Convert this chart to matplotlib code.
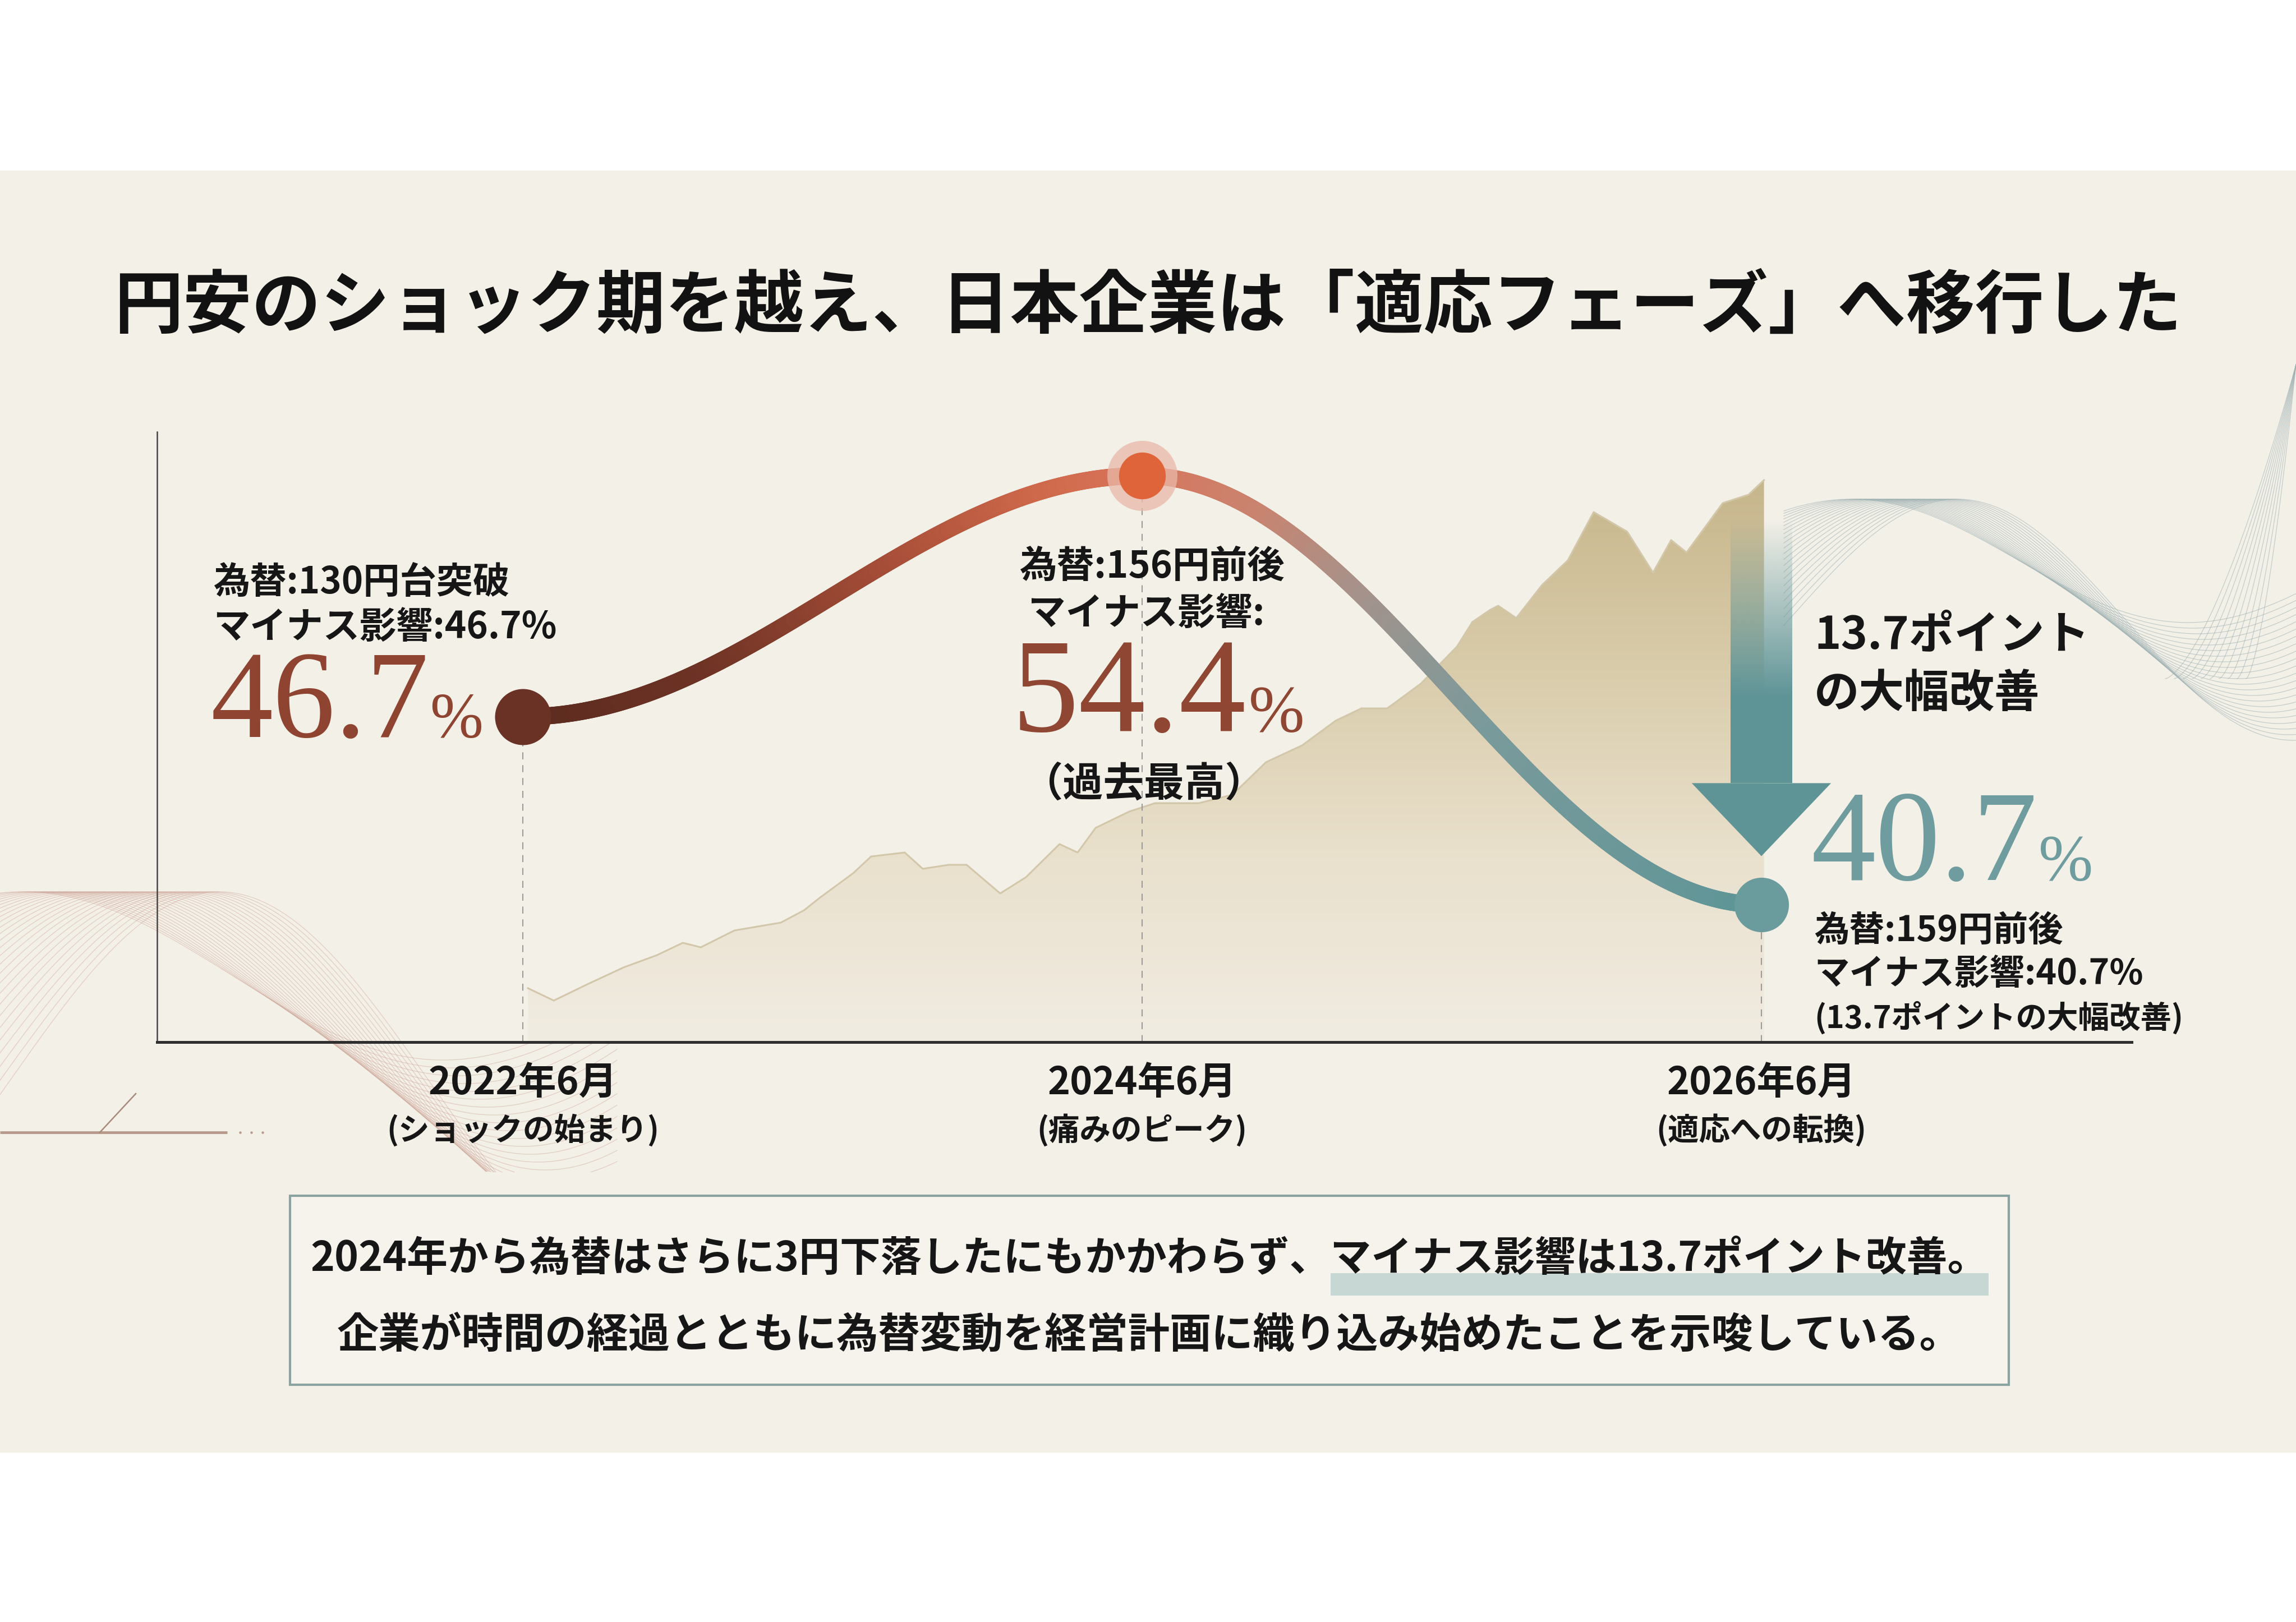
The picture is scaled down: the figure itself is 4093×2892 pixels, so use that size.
import numpy as np
import matplotlib.pyplot as plt
from matplotlib.collections import LineCollection
from matplotlib.colors import LinearSegmentedColormap, to_rgba
from matplotlib.patches import Rectangle, Polygon

plt.rcParams['font.family'] = ['Noto Sans CJK JP', 'DejaVu Sans']

W, H, DPI = 4093, 2892, 100

# ---- data -------------------------------------------------------------
periods = ['2022年6月', '2024年6月', '2026年6月']
phases = ['(ショックの始まり)', '(痛みのピーク)', '(適応への転換)']
months = [0, 24, 48]            # months since 2022-06
impact = [46.7, 54.4, 40.7]     # share reporting a negative impact (%)
fx_notes = ['為替:130円台突破', '為替:156円前後', '為替:159円前後']
improvement = 13.7

# shaded background series (yen weakness index)
bg_months = [0.2, 1.2, 2.5, 3.9, 5.2, 6.2, 6.9, 8.2, 10.0, 10.9, 11.5, 12.8,
             13.5, 14.8, 15.5, 16.5, 17.2, 18.5, 19.5, 20.8, 21.5, 22.2, 23.5,
             24.5, 26.2, 27.5, 28.8, 30.2, 31.5, 32.5, 33.5, 34.8, 36.2, 36.8,
             37.5, 37.8, 38.5, 39.5, 40.5, 41.5, 42.8, 43.8, 44.5, 45.1, 46.5,
             47.5, 48.1]
bg_level = [9.6, 7.4, 10.3, 13.3, 15.5, 17.7, 16.9, 19.9, 21.3, 23.5, 25.7,
            30.1, 33.1, 33.8, 30.9, 31.6, 31.6, 26.5, 29.4, 35.3, 33.8, 38.2,
            41.1, 42.6, 42.6, 44.1, 49.9, 52.9, 57.3, 59.5, 59.5, 63.9, 70.5,
            74.9, 77.1, 77.8, 75.6, 81.5, 85.9, 94.5, 91.0, 83.7, 89.5, 87.3,
            96.1, 97.6, 100.2]

TEAL = '#5f9497'
BROWN = '#8e4431'


def fx(px):
    return px / W


def fy(py):
    return 1 - py / H


fig = plt.figure(figsize=(W / DPI, H / DPI), dpi=DPI, facecolor='white')
fig.add_artist(Rectangle((0, fy(2590)), 1, (2590 - 304) / H, transform=fig.transFigure,
                         facecolor='#f3f0e8', edgecolor='none', zorder=-10))

# decoration layer in pixel coordinates
deco = fig.add_axes([0, 0, 1, 1], zorder=0.5)
deco.set_xlim(0, W)
deco.set_ylim(H, 0)
deco.axis('off')
deco.patch.set_alpha(0)

wx = np.linspace(0, 1100, 500)
for k in range(28):
    amp = 150 + k * 7
    shift = 40 + k * 13
    wy = 1590 + amp - amp * np.cos(2 * np.pi * (wx - shift) / 1500)
    wy = np.where(wy > 2090, np.nan, wy)
    deco.plot(wx, wy, color='#c8998a', lw=0.9, alpha=0.4)
deco.plot([0, 405], [2019, 2019], color='#b89a8c', lw=3.5, solid_capstyle='butt')
deco.plot([178, 242], [2019, 1950], color='#a88a7c', lw=1.8)
deco.plot([428, 448, 468], [2019] * 3, 'o', ms=2.2, color='#b89a8c')

rx = np.linspace(3180, 4093, 400)
for k in range(22):
    amp = 110 + k * 5
    shift = 3300 + k * 9
    ry = 890 + amp - amp * np.cos(2 * np.pi * (rx - shift) / 1200)
    deco.plot(rx, ry, color='#9db0b1', lw=0.9, alpha=0.55)
for k in range(10):
    x0 = 3860 + k * 16
    sx = np.linspace(x0, 4093, 100)
    sy = 1210 - 560 * ((sx - x0) / (4093 - x0)) ** 1.5
    deco.plot(sx, sy, color='#9db0b1', lw=0.9, alpha=0.55)

# ---- background shaded series ---------------------------------------
ax_rect = [fx(280), fy(1858), (3800 - 280) / W, (1858 - 770) / H]
xlim = (-(932 - 280) / 46.0, (3800 - 932) / 46.0)

bg = fig.add_axes(ax_rect, zorder=1)
bg.patch.set_alpha(0)
bg.axis('off')
poly = bg.fill_between(bg_months, 0, bg_level, color='none', lw=0)
grad = np.linspace(0, 1, 256).reshape(-1, 1)
tan = LinearSegmentedColormap.from_list('tan', ['#f1ece2', '#e9e0cc', '#d8cba9', '#c6b58a'])
img = bg.imshow(grad, extent=[bg_months[0], bg_months[-1], 0, 102], origin='lower',
                cmap=tan, aspect='auto', zorder=1)
img.set_clip_path(poly.get_paths()[0], transform=bg.transData)
bg.plot(bg_months, bg_level, color='#d3c7aa', lw=2.2, zorder=2)
bg.set_xlim(*xlim)
bg.set_ylim(0, (1858 - 770) / 10)

# ---- main chart -------------------------------------------------------
ax = fig.add_axes(ax_rect, zorder=2)
ax.patch.set_alpha(0)
ylo, yhi = min(impact) - 4.39, max(impact) + 1.4

# smooth eased curve through the three observations
cx, cy = [], []
for i in range(len(months) - 1):
    t = np.linspace(0, 1, 300)
    s = (1 - np.cos(np.pi * t)) / 2
    cx.append(months[i] + (months[i + 1] - months[i]) * t)
    cy.append(impact[i] + (impact[i + 1] - impact[i]) * s)
cx = np.concatenate(cx)
cy = np.concatenate(cy)
pts = np.column_stack([cx, cy]).reshape(-1, 1, 2)
segs = np.concatenate([pts[:-1], pts[1:]], axis=1)
curve_cmap = LinearSegmentedColormap.from_list('curve', [
    (0.0, '#5b2a1f'), (0.15, '#6e3325'), (0.3, '#a84e38'), (0.42, '#cf694b'),
    (0.5, '#d9745a'), (0.6, '#c98470'), (0.68, '#a5928b'), (0.78, '#7a9a9b'),
    (1.0, '#5e9597')])
lc = LineCollection(segs, cmap=curve_cmap, linewidths=22, capstyle='round',
                    joinstyle='round', zorder=4)
lc.set_array((cx[:-1] - cx.min()) / (cx.max() - cx.min()))
ax.add_collection(lc)

ax.vlines(months, ylo, impact, colors='#9b9b9b', linestyles=(0, (6, 5)), lw=1.5, zorder=2)

ax.plot(months[0], impact[0], 'o', ms=72, color='#6a3224', mec='none', zorder=5)
ax.plot(months[1], impact[1], 'o', ms=90, color='#e9b9a9', alpha=0.75, mec='none', zorder=5)
ax.plot(months[1], impact[1], 'o', ms=60, color='#e0643a', mec='none', zorder=6)
ax.plot(months[2], impact[2], 'o', ms=70, color='#6a9c9e', mec='none', zorder=5)

# downward arrow showing the improvement
ax_x = months[2]
tip = impact[2] + 1.55
head_len, shaft_w, head_w = 2.33, 2.37, 5.4
ramp = np.clip(np.linspace(-0.25, 1.5, 200), 0, 1)
shaft = np.zeros((200, 1, 4))
shaft[:, 0, :3] = to_rgba(TEAL)[:3]
shaft[:, 0, 3] = ramp
ax.imshow(shaft, extent=[ax_x - shaft_w / 2, ax_x + shaft_w / 2, tip + head_len, impact[1]],
          aspect='auto', origin='upper', zorder=3)
ax.add_patch(Polygon([(ax_x - head_w / 2, tip + head_len), (ax_x + head_w / 2, tip + head_len),
                      (ax_x, tip)], closed=True, facecolor=TEAL, edgecolor='none', zorder=3))

ax.set_xlim(*xlim)
ax.set_ylim(ylo, yhi)
ax.set_xticks([])
ax.set_yticks([])
for side in ['top', 'right']:
    ax.spines[side].set_visible(False)
ax.spines['left'].set_color('#444444')
ax.spines['left'].set_linewidth(1.8)
ax.spines['bottom'].set_color('#2e2e2e')
ax.spines['bottom'].set_linewidth(3.6)


def note(x, y, s, dx, dy, **kw):
    ax.annotate(s, xy=(x, y), xytext=(dx, -dy), textcoords='offset pixels',
                annotation_clip=False, zorder=7, **kw)


bold = dict(fontweight='bold', color='#161616')
serif = dict(family=['Liberation Serif', 'DejaVu Serif'])

# left point
note(months[0], impact[0], fx_notes[0], -552, -239, ha='left', va='center', fontsize=47, **bold)
note(months[0], impact[0], f'マイナス影響:{impact[0]}%', -552, -160, ha='left', va='center',
     fontsize=47, **bold)
note(months[0], impact[0], f'{impact[0]}', -168, 36, ha='right', va='baseline',
     fontsize=160, color=BROWN, **serif)
note(months[0], impact[0], '%', -166, 36, ha='left', va='baseline',
     fontsize=82, color=BROWN, **serif)

# peak
note(months[1], impact[1], fx_notes[1], 17, 162, ha='center', va='center', fontsize=48, **bold)
note(months[1], impact[1], 'マイナス影響:', 8, 247, ha='center', va='center', fontsize=48, **bold)
note(months[1], impact[1], f'{impact[1]}', 186, 456, ha='right', va='baseline',
     fontsize=172, color='#8f4633', **serif)
note(months[1], impact[1], '%', 190, 456, ha='left', va='baseline',
     fontsize=86, color='#8f4633', **serif)
note(months[1], impact[1], '（過去最高）', 3, 550, ha='center', va='center', fontsize=52, **bold)

# right point
note(months[2], impact[2], f'{improvement}ポイント', 94, -480, ha='left', va='center',
     fontsize=58, **bold)
note(months[2], impact[2], 'の大幅改善', 94, -375, ha='left', va='center', fontsize=58, **bold)
note(months[2], impact[2], f'{impact[2]}', 492, -44, ha='right', va='baseline',
     fontsize=166, color='#6f9c9e', **serif)
note(months[2], impact[2], '%', 494, -44, ha='left', va='baseline',
     fontsize=84, color='#6f9c9e', **serif)
note(months[2], impact[2], fx_notes[2], 94, 46, ha='left', va='center', fontsize=45, **bold)
note(months[2], impact[2], f'マイナス影響:{impact[2]}%', 94, 124, ha='left', va='center',
     fontsize=45, **bold)
note(months[2], impact[2], f'({improvement}ポイントの大幅改善)', 94, 202, ha='left',
     va='center', fontsize=40, **bold)

# period labels under the axis
for m, p, ph in zip(months, periods, phases):
    ax.annotate(p, xy=(m, 0), xycoords=('data', 'axes fraction'), xytext=(0, -74),
                textcoords='offset pixels', ha='center', va='center', fontsize=49,
                annotation_clip=False, **bold)
    ax.annotate(ph, xy=(m, 0), xycoords=('data', 'axes fraction'), xytext=(0, -157),
                textcoords='offset pixels', ha='center', va='center', fontsize=40,
                annotation_clip=False, **bold)

# ---- title ------------------------------------------------------------
fig.text(fx(2046), fy(548), '円安のショック期を越え、日本企業は「適応フェーズ」へ移行した',
         ha='center', va='center', fontsize=88.5, fontweight='bold', color='#121212')

# ---- takeaway box -----------------------------------------------------
deco.add_patch(Rectangle((517, 2132), 3581 - 517, 2469 - 2132, facecolor='#f5f3ec',
                         edgecolor='#8aa3a0', lw=3, zorder=2))
line1_a = '2024年から為替はさらに3円下落したにもかかわらず、'
line1_b = f'マイナス影響は{improvement}ポイント改善。'
line2 = '企業が時間の経過とともに為替変動を経営計画に織り込み始めたことを示唆している。'
t1 = deco.text(2049, 2245, line1_a + line1_b, ha='center', va='center', fontsize=52.5,
               zorder=4, **bold)
deco.text(2049, 2380, line2, ha='center', va='center', fontsize=53.5, zorder=4, **bold)

renderer = fig.canvas.get_renderer()
ext = t1.get_window_extent(renderer)
probe = deco.text(0, 0, line1_a, fontsize=52.5, fontweight='bold')
wa = probe.get_window_extent(renderer).width
probe.remove()
hl_x0 = ext.x0 + wa
deco.add_patch(Rectangle((hl_x0, 2270), ext.x1 - hl_x0, 40, facecolor='#a9c5c4',
                         alpha=0.6, edgecolor='none', zorder=3))

fig.savefig('out.png', dpi=DPI, facecolor='white')
